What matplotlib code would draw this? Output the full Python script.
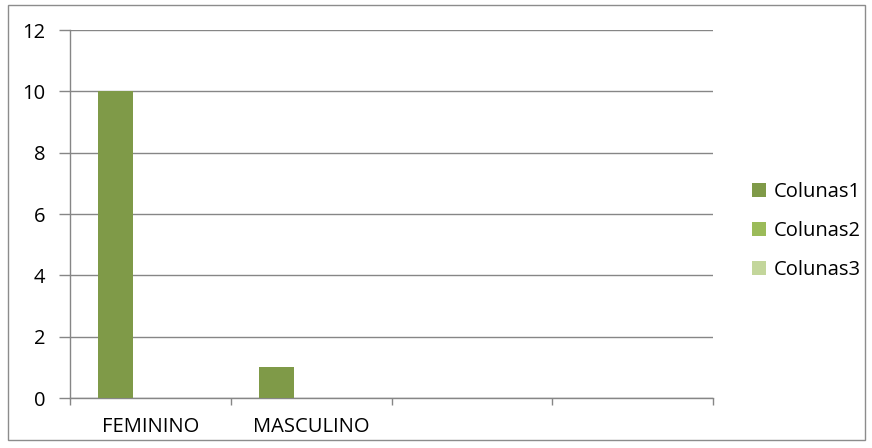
import numpy as np
import matplotlib.pyplot as plt
from matplotlib.patches import Rectangle

plt.rcParams["font.family"] = ["Open Sans", "DejaVu Sans"]

# ============================================================
# Data
# ============================================================

categorias = ["FEMININO", "MASCULINO", "", ""]
colunas1 = [10, 1, np.nan, np.nan]
colunas2 = [np.nan, np.nan, np.nan, np.nan]
colunas3 = [np.nan, np.nan, np.nan, np.nan]
series = ["Colunas1", "Colunas2", "Colunas3"]
cores = ["#7f9a48", "#9bbb59", "#c3d69b"]
y_ticks = [0, 2, 4, 6, 8, 10, 12]

# ============================================================
# Figure
# ============================================================

fig = plt.figure(figsize=(8.72, 4.48), dpi=100)
ax = fig.add_axes([70 / 872, 1 - 398 / 448, (713 - 70) / 872, (398 - 30) / 448])

# outer frame of the chart area
fig.patches.append(
    Rectangle((8 / 872, 1 - 440 / 448), 857 / 872, 435 / 448,
              transform=fig.transFigure, fill=False,
              edgecolor="#8c8c8c", linewidth=1.0)
)

x = np.arange(len(categorias))
w = 0.217
handles = []
for i, (vals, nome, cor) in enumerate(zip([colunas1, colunas2, colunas3], series, cores)):
    b = ax.bar(x + (i - 1) * w, vals, w, color=cor, label=nome, zorder=3)
    handles.append(b)

grid_c = "#868686"
fs = 14.5
ax.set_xlim(-0.5, len(categorias) - 0.5)
ax.set_ylim(0, 12)
ax.set_yticks(y_ticks)
ax.yaxis.grid(True, color=grid_c, linewidth=1.0, zorder=0)

ax.set_xticks(x)
ax.set_xticklabels(categorias, fontsize=fs)
ax.set_xticks(np.arange(len(categorias) + 1) - 0.5, minor=True)
ax.tick_params(axis="x", which="major", length=0, pad=14)
ax.tick_params(axis="x", which="minor", length=5, width=1.0, color=grid_c, direction="out")
ax.tick_params(axis="y", length=8, width=1.0, color=grid_c, pad=10, labelsize=fs)

for s in ["top", "right"]:
    ax.spines[s].set_visible(False)
for s in ["left", "bottom"]:
    ax.spines[s].set_color(grid_c)
    ax.spines[s].set_linewidth(1.0)

fig.legend(handles=handles, labels=series, loc="center left",
           bbox_to_anchor=(746 / 872, 1 - 231 / 448), frameon=False,
           fontsize=fs, handlelength=0.68, handleheight=0.68,
           handletextpad=0.4, labelspacing=0.95, borderaxespad=0,
           borderpad=0.3)

fig.savefig("out.png", dpi=100)
